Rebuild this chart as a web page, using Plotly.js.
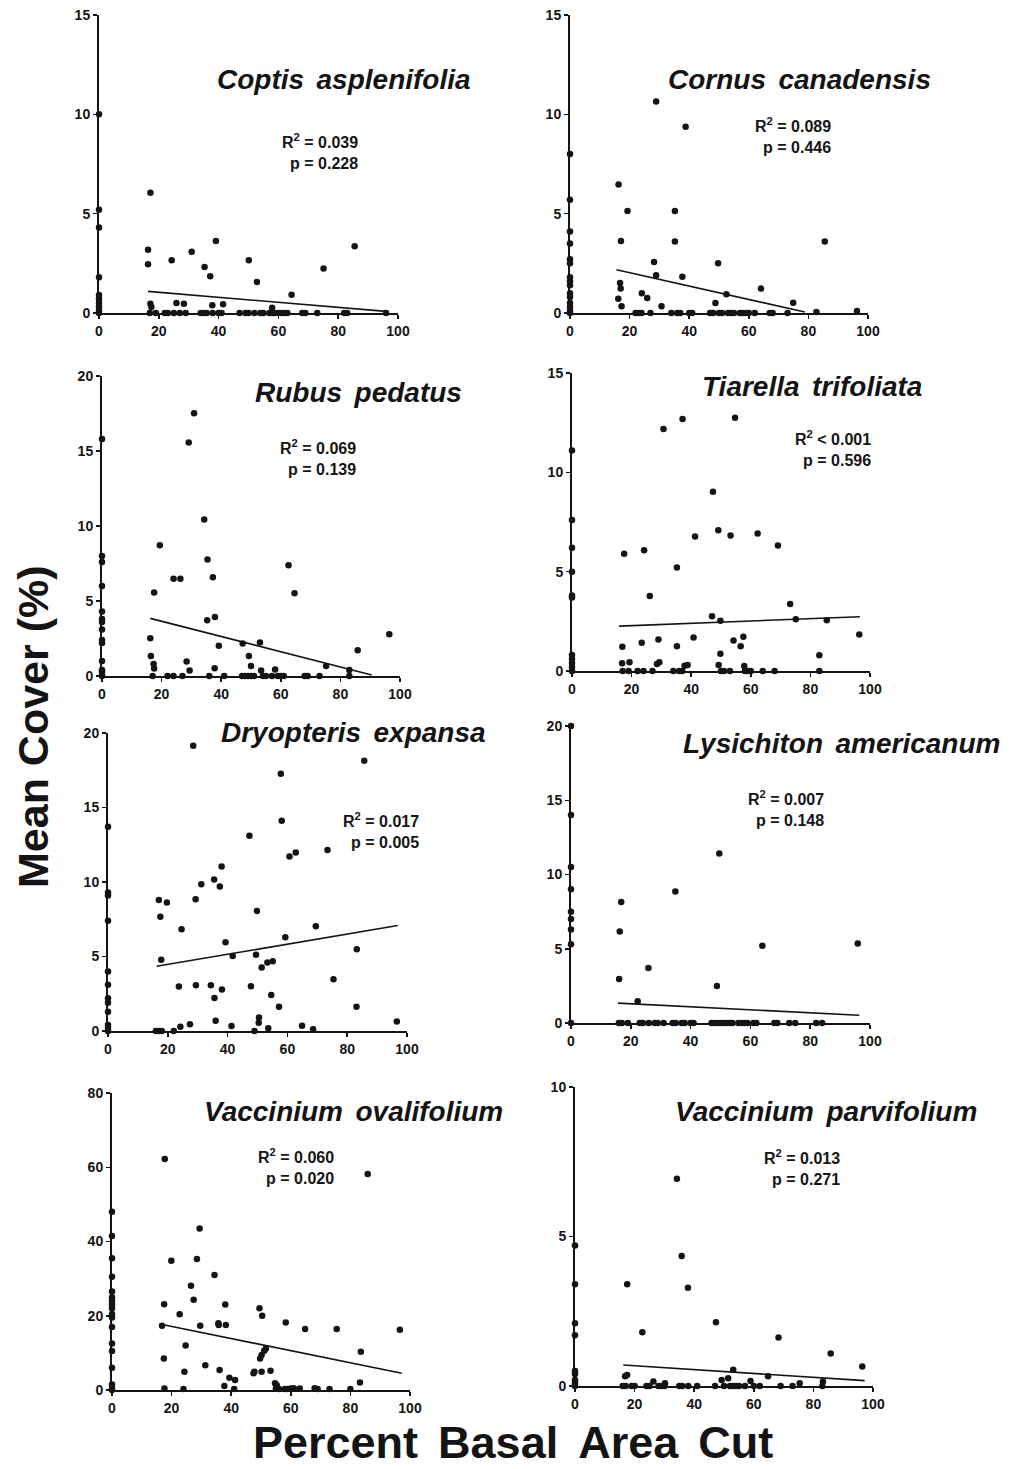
<!DOCTYPE html>
<html>
<head>
<meta charset="utf-8">
<script src="https://cdn.plot.ly/plotly-3.0.1.min.js"></script>
<style>html,body{margin:0;padding:0;background:#fff;}#chart{width:1022px;height:1469px;}</style>
</head>
<body>
<div id="chart"></div>
<script>
// ---------- DATA ----------
const speciesNames = ["Coptis asplenifolia", "Cornus canadensis", "Rubus pedatus", "Tiarella trifoliata",
  "Dryopteris expansa", "Lysichiton americanum", "Vaccinium ovalifolium", "Vaccinium parvifolium"];
const rSquared = ["R<sup>2</sup> = 0.039", "R<sup>2</sup> = 0.089", "R<sup>2</sup> = 0.069", "R<sup>2</sup> < 0.001",
  "R<sup>2</sup> = 0.017", "R<sup>2</sup> = 0.007", "R<sup>2</sup> = 0.060", "R<sup>2</sup> = 0.013"];
const pValues = ["p = 0.228", "p = 0.446", "p = 0.139", "p = 0.596", "p = 0.005", "p = 0.148", "p = 0.020", "p = 0.271"];
const yTickSets = [[0, 5, 10, 15], [0, 5, 10, 15], [0, 5, 10, 15, 20], [0, 5, 10, 15],
  [0, 5, 10, 15, 20], [0, 5, 10, 15, 20], [0, 20, 40, 60, 80], [0, 5, 10]];
const xTicks = [0, 20, 40, 60, 80, 100];

const coptisX = [0,0,0,0,0,0,0,0,0,0,
  17.2,16.4,16.4,24.3,31,39.1,35.3,37.2,50.1,52.8,64.4,75.1,85.5,
  17.2,17.5,25.9,28.4,37.9,41.5,57.9,
  17,19,22,23,25,27,29,34,35,36,38,40,41,47,49,50,52,54,55,57,58,59,60,61,62,63,68,69,73,82,83,96];
const coptisY = [10,5.2,4.3,1.8,0.9,0.7,0.5,0.3,0.1,0,
  6.05,3.19,2.45,2.66,3.08,3.63,2.32,1.85,2.66,1.56,0.92,2.24,3.36,
  0.47,0.3,0.5,0.47,0.39,0.44,0.27,
  0,0,0,0,0,0,0,0,0,0,0,0,0,0,0,0,0,0,0,0,0,0,0,0,0,0,0,0,0,0,0,0];
const coptisFitX = [16.4, 96];
const coptisFitY = [1.09, 0.08];

const cornusX = [0,0,0,0,0,0,0,0,0,0,0,0,0,0,0,
  28.9,38.8,16.3,19.3,17.1,35.2,35.2,85.5,28.2,49.7,28.9,37.7,16.8,17.0,16.2,17.3,24.1,25.9,30.7,48.8,52.5,64.1,74.9,96.3,82.7,
  22,23,24,27,34,36,37,40,41,47,48,50,51,53,54,55,57,58,59,60,62,67,68,73];
const cornusY = [8.0,5.7,4.1,3.5,2.7,2.5,1.8,1.6,1.4,1.0,0.8,0.5,0.3,0.1,0,
  10.64,9.38,6.47,5.13,3.63,5.13,3.6,3.6,2.57,2.5,1.9,1.82,1.51,1.23,0.72,0.34,1.0,0.76,0.34,0.5,0.94,1.23,0.52,0.1,0.05,
  0,0,0,0,0,0,0,0,0,0,0,0,0,0,0,0,0,0,0,0,0,0,0,0];
const cornusFitX = [15.6, 78.8];
const cornusFitY = [2.18, 0.05];

const rubusX = [0,0,0,0,0,0,0,0,0,0,0,0,0,0,0,
  30.9,29.1,34.3,19.4,35.4,24.0,26.3,37.2,62.6,64.6,17.5,35.3,37.9,16.2,39.2,47.2,53.0,49.3,96.4,85.8,75.2,16.4,17.3,17.5,28.4,29.4,37.8,50.0,58.1,53.4,83.0,
  17,22,24,27,36,41,47,48,49,50,51,54,55,57,59,60,61,68,69,73,83];
const rubusY = [15.8,8.0,7.6,6.0,4.3,3.8,3.6,3.1,2.4,2.2,1.0,0.4,0.3,0.1,0,
  17.51,15.56,10.44,8.71,7.76,6.49,6.49,6.58,7.38,5.51,5.56,3.71,3.93,2.51,2.02,2.16,2.24,1.33,2.78,1.71,0.67,1.33,0.8,0.5,0.96,0.36,0.51,0.67,0.44,0.36,0.4,
  0,0,0,0,0,0,0,0,0,0,0,0,0,0,0,0,0,0,0,0,0];
const rubusFitX = [16.2, 90.5];
const rubusFitY = [3.84, 0.07];

const tiarellaX = [0,0,0,0,0,0,0,0,0,0,0,
  30.7,37.1,54.7,47.3,49.1,53.2,62.3,69.1,41.3,17.5,24.2,35.2,26.1,73.2,47.0,49.8,75.1,85.5,96.4,16.9,23.4,29.0,35.2,40.8,54.2,57.5,56.6,49.8,83.0,16.8,19.3,28.5,29.3,38.8,37.8,49.2,57.8,
  17,19,22,24,27,34,36,37,50,51,53,58,59,60,64,68,83];
const tiarellaY = [11.1,7.6,6.2,5.0,3.8,3.7,0.8,0.6,0.4,0.2,0,
  12.18,12.69,12.75,9.02,7.09,6.82,6.92,6.32,6.77,5.9,6.08,5.21,3.77,3.37,2.75,2.53,2.6,2.55,1.84,1.22,1.42,1.58,1.24,1.68,1.53,1.73,1.24,0.87,0.79,0.39,0.44,0.35,0.44,0.3,0.27,0.3,0.25,
  0,0,0,0,0,0,0,0,0,0,0,0,0,0,0,0,0];
const tiarellaFitX = [15.8, 96.6];
const tiarellaFitY = [2.26, 2.73];

const dryopterisX = [0,0,0,0,0,0,0,0,0,0,0,0,
  28.5,85.7,57.8,58.1,47.3,60.7,62.8,73.4,38.0,35.5,37.4,31.2,29.3,17.0,19.7,17.5,49.8,24.6,69.5,39.3,59.3,17.8,41.7,49.5,51.4,53.3,55.1,83.2,75.4,23.7,29.4,34.4,38.1,35.6,47.8,54.6,57.2,83.1,96.6,36.0,50.5,50.4,27.4,24.2,41.3,64.9,53.6,68.6,
  16,17,18,22,49];
const dryopterisY = [13.7,9.3,9.1,7.4,4.0,3.1,2.2,1.9,1.3,0.4,0.2,0,
  19.15,18.14,17.27,14.11,13.1,11.71,11.98,12.14,11.04,10.17,9.7,9.85,8.85,8.8,8.62,7.66,8.06,6.83,7.03,5.96,6.29,4.79,5.04,5.11,4.26,4.59,4.68,5.49,3.47,2.98,3.07,3.07,2.78,2.22,3.0,2.42,1.63,1.63,0.63,0.69,0.9,0.56,0.45,0.29,0.34,0.36,0.18,0.11,
  0,0,0,0,0];
const dryopterisFitX = [16.2, 96.9];
const dryopterisFitY = [4.34, 7.08];

const lysichitonX = [0,0,0,0,0,0,0,0,0,
  49.6,34.9,16.8,16.3,64.0,95.9,25.9,16.1,48.8,22.3,
  16,17,19,23,24,26,28,29,31,34,35,37,38,40,41,47,48,49,50,51,52,53,54,56,57,58,59,61,62,68,69,73,75,82,84];
const lysichitonY = [20,14,10.5,9.0,7.5,7.0,6.3,5.3,0,
  11.42,8.85,8.15,6.16,5.2,5.35,3.7,2.96,2.49,1.46,
  0,0,0,0,0,0,0,0,0,0,0,0,0,0,0,0,0,0,0,0,0,0,0,0,0,0,0,0,0,0,0,0,0,0,0];
const lysichitonFitX = [15.7, 96.4];
const lysichitonFitY = [1.34, 0.52];

const ovalifoliumX = [0,0,0,0,0,0,0,0,0,0,0,0,0,0,0,0,0,0,
  17.7,85.8,29.4,19.9,28.5,34.4,26.5,27.4,17.5,38.0,22.7,49.5,50.4,58.3,16.8,29.6,35.8,38.2,35.7,64.8,75.4,96.6,17.4,24.7,31.3,24.3,36.1,39.4,41.3,47.5,47.8,50.2,53.2,49.7,50.2,51.1,51.6,83.5,83.2,37.7,54.7,55.3,
  17.6,24,41,55,56,58,59,60,61,63,68,69,73,80];
const ovalifoliumY = [48,41.5,35.5,30.5,26.5,25,24,23,22,20.5,19.5,17,12.5,10.5,6,1.5,0.5,0,
  62.2,58.2,43.5,34.8,35.3,31.0,28.1,24.3,23.1,23.0,20.4,22.0,20.0,18.2,17.3,17.3,17.5,17.5,18.0,16.4,16.4,16.2,8.5,12.0,6.7,4.9,5.4,3.3,2.7,4.5,4.9,4.9,5.2,8.5,9.4,10.6,11.1,10.3,2.0,1.1,1.8,1.3,
  0.4,0.3,0.3,0.4,0.3,0.3,0.3,0.4,0.5,0.4,0.5,0.3,0.3,0.3];
const ovalifoliumFitX = [16, 97.2];
const ovalifoliumFitY = [17.8, 4.5];

const parvifoliumX = [0,0,0,0,0,0,0,0,0,
  34.2,35.8,17.5,37.9,47.3,22.6,68.3,85.8,96.4,53.1,64.8,16.8,17.5,51.4,49.2,26.3,58.9,83.2,75.4,30.2,
  16,17,19,20,24,25,28,29,30,35,36,38,41,47,50,52,53,54,55,57,60,62,69,73,83];
const parvifoliumY = [4.7,3.4,2.1,1.7,0.5,0.4,0.2,0.1,0,
  6.93,4.35,3.4,3.29,2.13,1.8,1.62,1.09,0.65,0.54,0.33,0.33,0.37,0.26,0.2,0.15,0.17,0.15,0.09,0.09,
  0,0,0,0,0,0,0,0,0,0,0,0,0,0,0,0,0,0,0,0,0,0,0,0,0];
const parvifoliumFitX = [16.2, 97.2];
const parvifoliumFitY = [0.7, 0.18];

// ---------- LAYOUT (pixel boxes of each panel) ----------
const W = 1022, H = 1469;
const panels = [
  {x: coptisX, y: coptisY, fx: coptisFitX, fy: coptisFitY, box: [99, 398, 15, 313], title: [344, 79], stat: [360, 152]},
  {x: cornusX, y: cornusY, fx: cornusFitX, fy: cornusFitY, box: [570, 868, 15, 313], title: [799, 79], stat: [833, 136]},
  {x: rubusX, y: rubusY, fx: rubusFitX, fy: rubusFitY, box: [102, 400, 376, 676], title: [358, 392], stat: [358, 457]},
  {x: tiarellaX, y: tiarellaY, fx: tiarellaFitX, fy: tiarellaFitY, box: [572, 870, 373, 671], title: [812, 386], stat: [873, 448]},
  {x: dryopterisX, y: dryopterisY, fx: dryopterisFitX, fy: dryopterisFitY, box: [108, 407, 733, 1031], title: [353, 732], stat: [421, 830]},
  {x: lysichitonX, y: lysichitonY, fx: lysichitonFitX, fy: lysichitonFitY, box: [571, 870, 726, 1023], title: [841, 743], stat: [826, 808]},
  {x: ovalifoliumX, y: ovalifoliumY, fx: ovalifoliumFitX, fy: ovalifoliumFitY, box: [112, 410, 1093, 1390], title: [353, 1111], stat: [336, 1166]},
  {x: parvifoliumX, y: parvifoliumY, fx: parvifoliumFitX, fy: parvifoliumFitY, box: [575, 873, 1087, 1386], title: [826, 1111], stat: [842, 1167]}
];

const FONT = "Liberation Sans, Arial, Helvetica, sans-serif";
const INK = "#141414";
const traces = [];
const layout = {
  width: W, height: H,
  margin: {l: 0, r: 0, t: 0, b: 0},
  paper_bgcolor: "#fff", plot_bgcolor: "rgba(0,0,0,0)",
  showlegend: false,
  font: {family: FONT, color: INK, size: 14},
  annotations: []
};
const bold = v => "<b>" + v + "</b>";

panels.forEach((p, i) => {
  const n = i === 0 ? "" : String(i + 1);
  const xa = "x" + n, ya = "y" + n;
  traces.push({
    type: "scatter", mode: "markers", x: p.x, y: p.y, xaxis: xa, yaxis: ya,
    marker: {color: INK, size: 6.5}, cliponaxis: false, hoverinfo: "skip"
  });
  traces.push({
    type: "scatter", mode: "lines", x: p.fx, y: p.fy, xaxis: xa, yaxis: ya,
    line: {color: INK, width: 1.6}, cliponaxis: false, hoverinfo: "skip"
  });
  const yt = yTickSets[i];
  const common = {
    showline: true, linecolor: INK, linewidth: 2, ticks: "outside", ticklen: 4, tickwidth: 1.5,
    tickcolor: INK, showgrid: false, zeroline: false, fixedrange: true, tickmode: "array",
    tickfont: {family: FONT, size: 14, color: INK}
  };
  layout["xaxis" + n] = Object.assign({}, common, {
    domain: [p.box[0] / W, p.box[1] / W], anchor: ya, range: [0, 100],
    tickvals: xTicks, ticktext: xTicks.map(bold)
  });
  layout["yaxis" + n] = Object.assign({}, common, {
    domain: [1 - p.box[3] / H, 1 - p.box[2] / H], anchor: xa, range: [0, yt[yt.length - 1]],
    tickvals: yt, ticktext: yt.map(bold)
  });
  layout.annotations.push({
    xref: "paper", yref: "paper", x: p.title[0] / W, y: 1 - p.title[1] / H,
    xanchor: "center", yanchor: "middle", showarrow: false,
    text: "<b><i>" + speciesNames[i].replace(" ", " &#8198;") + "</i></b>",
    font: {family: FONT, size: 28, color: INK}
  });
  layout.annotations.push({
    xref: "paper", yref: "paper", x: p.stat[0] / W, y: 1 - p.stat[1] / H,
    xanchor: "right", yanchor: "middle", align: "right", showarrow: false,
    text: "<b>" + rSquared[i] + "<br>" + pValues[i] + "</b>",
    font: {family: FONT, size: 16, color: INK}
  });
});

layout.annotations.push({
  xref: "paper", yref: "paper", x: 33 / W, y: 1 - 727 / H, xanchor: "center", yanchor: "middle",
  showarrow: false, textangle: -90, text: "<b>Mean Cover (%)</b>",
  font: {family: FONT, size: 43, color: INK}
});
layout.annotations.push({
  xref: "paper", yref: "paper", x: 513 / W, y: 0, xanchor: "center", yanchor: "bottom", borderpad: 0,
  showarrow: false, text: "<b>Percent &#8198;Basal &#8198;Area &#8198;Cut</b>",
  font: {family: FONT, size: 45, color: INK}
});

Plotly.newPlot("chart", traces, layout, {displayModeBar: false, staticPlot: true});
</script>
</body>
</html>
